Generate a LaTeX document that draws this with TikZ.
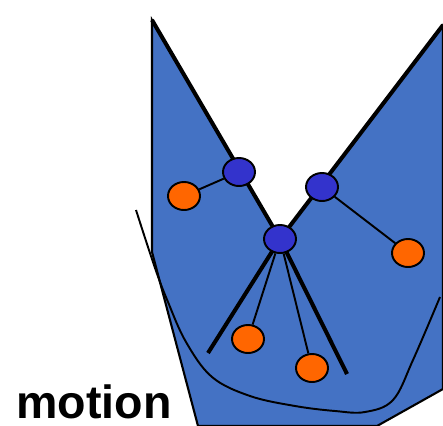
\documentclass[tikz,border=0pt]{standalone}
\usepackage{fontspec}
\setmainfont{Liberation Sans}
\usepackage{tikz}
\usetikzlibrary{positioning,shapes.geometric}
\definecolor{bodyblue}{HTML}{4472C4}
\definecolor{jointblue}{HTML}{3333CC}
\definecolor{markorange}{HTML}{FF6600}
\newcommand{\pxu}{0.02cm}
\tikzset{
  body/.style={fill=bodyblue,draw=black,line width=1.2pt,line join=miter},
  arm/.style={draw=black,line width=2.3pt},
  jt/.style={ellipse,draw=black,fill=jointblue,minimum width=32*\pxu,minimum height=28*\pxu,inner sep=0pt,line width=1.1pt},
  mk/.style={ellipse,draw=black,fill=markorange,minimum width=32*\pxu,minimum height=28*\pxu,inner sep=0pt,line width=1.1pt},
  lnk/.style={draw=black,line width=1.1pt},
  bone/.style={draw=black,line width=2.3pt},
  trace/.style={draw=black,line width=1.1pt},
  lb/.style={font=\fontsize{26.5}{26.5}\selectfont\bfseries},
}
\begin{document}
\begin{tikzpicture}[x=0.02cm,y=-0.02cm]
\useasboundingbox (0,0) rectangle (443,426);
% the body: two arms meeting at the hip, opened out below
\coordinate (tl) at (152,20);
\coordinate (tr) at (443,25);
\coordinate (hp) at (280,239);
\fill[body] (tl) -- (hp) -- (tr) -- (443,389) -- (377,426) -- (198,426) -- (152,252) -- cycle;
\draw[arm] (tl) -- (hp) -- (tr);
\draw[body,fill=none] (152,20) -- (152,252);
% motion trace
\draw[trace] plot[smooth,tension=.6] coordinates {(136,210) (155,268) (168,302) (186,342) (212,377)
  (250,396) (295,406) (335,411) (365,412) (393,400) (413,360) (440,297)};
% free ends of the two leg bones
\coordinate (ll) at (208,353);
\coordinate (rl) at (347,374);
\draw[bone] (hp) -- (ll);
\draw[bone] (hp) -- (rl);
% joints and markers
\node[jt] (hub) at (hp) {};
\node[jt] (jl) at (239,172) {};
\node[jt] (jr) at (322,187) {};
\node[mk] (ml) at (184,196) {};
\node[mk] (mr) at (408,253) {};
\node[mk] (ma) at (248,339) {};
\node[mk] (mb) at (312,368) {};
\draw[lnk] (jl) -- (ml);
\draw[lnk] (jr) -- (mr);
\draw[lnk] (hub) -- (ma);
\draw[lnk] (hub) -- (mb);
\node[lb,anchor=base west,inner sep=0pt] (ttl) at (16,418) {motion};
\end{tikzpicture}
\end{document}
